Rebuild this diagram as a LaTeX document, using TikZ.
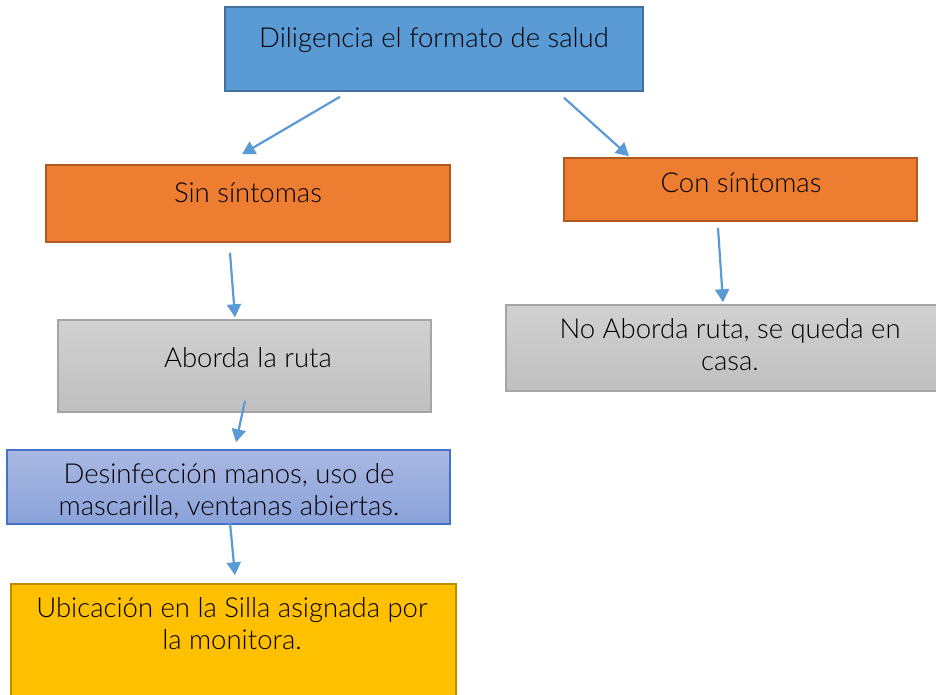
\documentclass[tikz,border=0pt]{standalone}
\usepackage{fontspec}
\setmainfont{Lato Light}
\usetikzlibrary{arrows.meta}
\definecolor{azul}{HTML}{5B9BD5}
\definecolor{azulborde}{HTML}{41719C}
\definecolor{naranja}{HTML}{ED7D31}
\definecolor{naranjaborde}{HTML}{AE5A21}
\definecolor{grisborde}{HTML}{A5A5A5}
\definecolor{lilaborde}{HTML}{4472C4}
\definecolor{amarillo}{HTML}{FFC000}
\definecolor{amarilloborde}{HTML}{BC8C00}
\tikzset{
  caja/.style={rectangle, line width=1.5pt, minimum width=#1, inner sep=0pt},
  texto/.style={font=\fontsize{27.5}{32}\selectfont, inner sep=0pt, align=center, anchor=base},
  flecha/.style={draw=azul, line width=2.2pt, -{Triangle[length=13pt,width=14pt]}}
}
\begin{document}
\begin{tikzpicture}[x=1pt, y=-1pt]
	\useasboundingbox (0,0) rectangle (936,694);
	% cajas
	\node[caja=418, minimum height=84, fill=azul, draw=azulborde] (salud) at (434,49) {};
	\node[caja=404, minimum height=77, fill=naranja, draw=naranjaborde] (sin) at (248,203.5) {};
	\node[caja=353, minimum height=63, fill=naranja, draw=naranjaborde] (con) at (740.5,189.5) {};
	\node[caja=373, minimum height=92, top color=black!18, bottom color=black!25, draw=grisborde] (aborda) at (244.5,366) {};
	\node[caja=436, minimum height=86, top color=black!18, bottom color=black!25, draw=grisborde] (noaborda) at (724,348) {};
	\node[caja=443, minimum height=74, top color={rgb,255:red,170;green,184;blue,226}, bottom color={rgb,255:red,138;green,162;blue,218}, draw=lilaborde] (desinf) at (228.5,487) {};
	\node[caja=445, minimum height=130, fill=amarillo, draw=amarilloborde] (ubic) at (233.5,649) {};
	% textos (multilinea: base en la ultima linea)
	\node[texto] (salud-t) at (434,47) {Diligencia el formato de salud};
	\node[texto] (sin-t) at (248,202) {Sin síntomas};
	\node[texto] (con-t) at (741,192) {Con síntomas};
	\node[texto] (aborda-t) at (248,367) {Aborda la ruta};
	\node[texto] (noaborda-t) at (730,370) {No Aborda ruta, se queda en\\casa.};
	\node[texto] (desinf-t) at (229,515) {Desinfección manos, uso de\\mascarilla, ventanas abiertas.};
	\node[texto] (ubic-t) at (232,649) {Ubicación en la Silla asignada por\\la monitora.};
	% flechas
	\draw[flecha] ([xshift=-94pt,yshift=-5pt]salud.south) -- ([xshift=-6pt,yshift=10pt]sin.north);
	\draw[flecha] ([xshift=130pt,yshift=-6pt]salud.south) -- ([xshift=-111.5pt,yshift=1pt]con.north);
	\draw[flecha] ([xshift=-18pt,yshift=-10pt]sin.south) -- ([xshift=-9.5pt,yshift=2pt]aborda.north);
	\draw[flecha] ([xshift=-22.5pt,yshift=-6pt]con.south) -- ([xshift=-1pt,yshift=2pt]noaborda.north);
	\draw[flecha] ([xshift=0.5pt,yshift=12pt]aborda.south) -- ([xshift=7.5pt,yshift=7pt]desinf.north);
	\draw[flecha] ([xshift=1.5pt,yshift=2pt]desinf.south) -- ([xshift=1.5pt,yshift=8pt]ubic.north);
\end{tikzpicture}
\end{document}
